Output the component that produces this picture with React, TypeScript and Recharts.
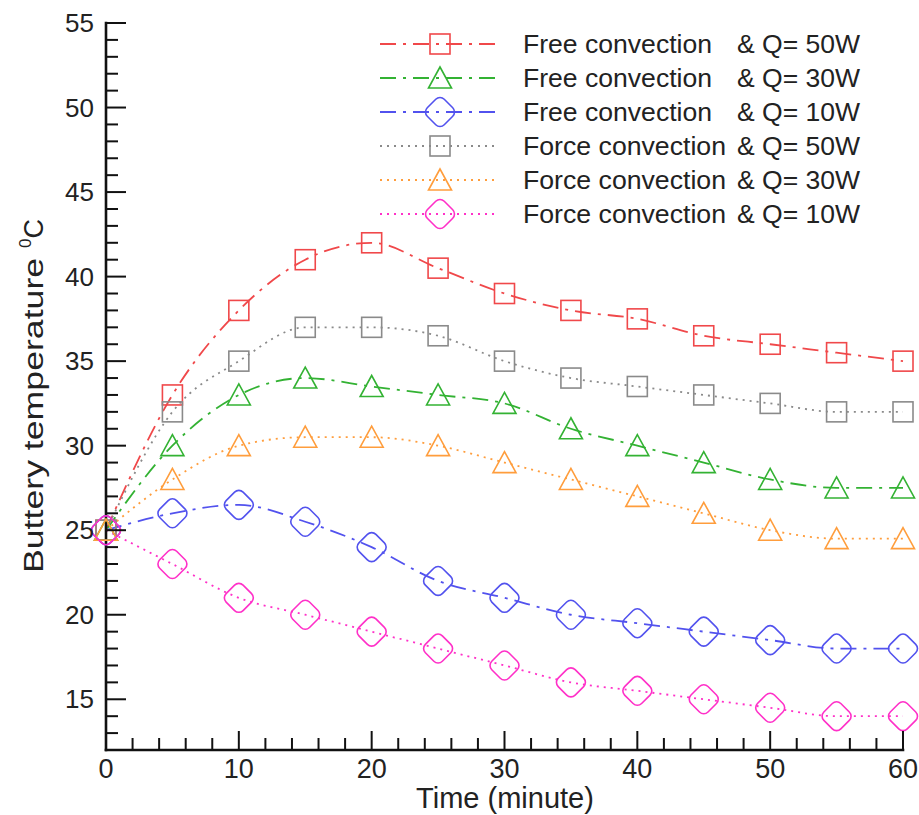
import { LineChart, Line, XAxis, YAxis, Legend } from 'recharts';

// time in minutes
const times = [0, 5, 10, 15, 20, 25, 30, 35, 40, 45, 50, 55, 60];

// battery temperature (°C)
const free50 = [25, 33, 38, 41, 42, 40.5, 39, 38, 37.5, 36.5, 36, 35.5, 35];
const free30 = [25, 30, 33, 34, 33.5, 33, 32.5, 31, 30, 29, 28, 27.5, 27.5];
const free10 = [25, 26, 26.5, 25.5, 24, 22, 21, 20, 19.5, 19, 18.5, 18, 18];
const force50 = [25, 32, 35, 37, 37, 36.5, 35, 34, 33.5, 33, 32.5, 32, 32];
const force30 = [25, 28, 30, 30.5, 30.5, 30, 29, 28, 27, 26, 25, 24.5, 24.5];
const force10 = [25, 23, 21, 20, 19, 18, 17, 16, 15.5, 15, 14.5, 14, 14];

const xMajor = [0, 10, 20, 30, 40, 50, 60];
const yMajor = [15, 20, 25, 30, 35, 40, 45, 50, 55];
const xTicks = Array.from({ length: 31 }, (_, i) => i * 2);
const yTicks = Array.from({ length: 43 }, (_, i) => 13 + i);

const FONT = "'Liberation Sans', Arial, Helvetica, sans-serif";
const AXIS = '#111';

const series = [
  { key: 'free50', name: 'Free convection', q: '& Q= 50W', color: '#f0484a', shape: 'square', dash: '16 7 3 7' },
  { key: 'free30', name: 'Free convection', q: '& Q= 30W', color: '#33b233', shape: 'triangle', dash: '16 7 3 7' },
  { key: 'free10', name: 'Free convection', q: '& Q= 10W', color: '#5252ee', shape: 'diamond', dash: '16 7 3 7' },
  { key: 'force50', name: 'Force convection', q: '& Q= 50W', color: '#8a8a8a', shape: 'square', dash: '2 5' },
  { key: 'force30', name: 'Force convection', q: '& Q= 30W', color: '#ff9d3c', shape: 'triangle', dash: '2 5' },
  { key: 'force10', name: 'Force convection', q: '& Q= 10W', color: '#ff30c8', shape: 'diamond', dash: '2 5' },
];

const values: Record<string, number[]> = { free50, free30, free10, force50, force30, force10 };

const data = times.map((t, i) => {
  const row: Record<string, number> = { t };
  series.forEach((s) => {
    row[s.key] = values[s.key][i];
  });
  return row;
});

function Marker({ cx, cy, shape, color }: { cx: number; cy: number; shape: string; color: string }) {
  if (cx == null || cy == null) return null;
  if (shape === 'square') {
    return <rect x={cx - 10} y={cy - 10} width={20} height={20} fill="none" stroke={color} strokeWidth={1.6} />;
  }
  if (shape === 'triangle') {
    const pts = `${cx},${cy - 11} ${cx - 11.5},${cy + 10} ${cx + 11.5},${cy + 10}`;
    return <polygon points={pts} fill="none" stroke={color} strokeWidth={1.6} />;
  }
  return (
    <rect
      x={cx - 12}
      y={cy - 12}
      width={24}
      height={24}
      rx={6}
      fill="none"
      stroke={color}
      strokeWidth={1.6}
      transform={`rotate(45 ${cx} ${cy})`}
    />
  );
}

function XTick(props: any) {
  const { x, y, payload } = props;
  const major = xMajor.includes(payload.value);
  return (
    <g>
      <line x1={x} x2={x} y1={y} y2={y - (major ? 19 : 12)} stroke={AXIS} strokeWidth={2} />
      {major && (
        <text x={x} y={y + 28} textAnchor="middle" fontSize={27} fontFamily={FONT} fill="#222">
          {payload.value}
        </text>
      )}
    </g>
  );
}

function YTick(props: any) {
  const { x, y, payload } = props;
  const major = yMajor.includes(payload.value);
  return (
    <g>
      <line x1={x} x2={x + (major ? 20 : 12)} y1={y} y2={y} stroke={AXIS} strokeWidth={2} />
      {major && (
        <text x={x - 12} y={y + 9} textAnchor="end" fontSize={26} fontFamily={FONT} fill="#222">
          {payload.value}
        </text>
      )}
    </g>
  );
}

function LegendBox() {
  return (
    <svg width={520} height={215} style={{ display: 'block' }}>
      {series.map((s, i) => {
        const y = 18 + i * 34;
        return (
          <g key={s.key}>
            <line x1={10} x2={127} y1={y} y2={y} stroke={s.color} strokeWidth={1.8} strokeDasharray={s.dash} />
            <Marker cx={70} cy={y} shape={s.shape} color={s.color} />
            <text
              x={153}
              y={y + 9}
              fontSize={25}
              fontFamily={FONT}
              fill="#222"
              textLength={s.name.startsWith('Force') ? 203 : 189}
              lengthAdjust="spacingAndGlyphs"
            >
              {s.name}
            </text>
            <text x={367} y={y + 9} fontSize={25} fontFamily={FONT} fill="#222" textLength={123} lengthAdjust="spacingAndGlyphs">
              {s.q}
            </text>
          </g>
        );
      })}
    </svg>
  );
}

export default function App() {
  return (
    <div style={{ position: 'absolute', left: 0, top: 0, background: '#fff' }}>
      <LineChart width={919} height={815} data={data} margin={{ top: 23, right: 16, bottom: 0, left: 0 }}>
        <XAxis
          dataKey="t"
          type="number"
          domain={[0, 60]}
          ticks={xTicks}
          interval={0}
          tickSize={0}
          tickMargin={0}
          tickLine={false}
          tick={<XTick />}
          height={65}
          axisLine={{ stroke: AXIS, strokeWidth: 2.6, strokeLinecap: 'square' }}
          label={{
            content: () => (
              <text x={505} y={808} textAnchor="middle" fontSize={29} fontFamily={FONT} fill="#222">
                Time (minute)
              </text>
            ),
          }}
        />
        <XAxis
          xAxisId="top"
          orientation="top"
          type="number"
          domain={[0, 60]}
          height={0}
          tick={false}
          tickLine={false}
          axisLine={{ stroke: AXIS, strokeWidth: 2.6, strokeLinecap: 'square' }}
        />
        <YAxis
          type="number"
          domain={[12, 55]}
          ticks={yTicks}
          interval={0}
          tickSize={0}
          tickMargin={0}
          tickLine={false}
          tick={<YTick />}
          width={106}
          axisLine={{ stroke: AXIS, strokeWidth: 2.6, strokeLinecap: 'square' }}
          label={{
            content: () => (
              <text
                transform="rotate(-90 43 396)"
                x={43}
                y={396}
                textAnchor="middle"
                fontSize={27}
                fontFamily={FONT}
                fill="#222"
              >
                <tspan textLength={325} lengthAdjust="spacingAndGlyphs">Buttery temperature </tspan>
                <tspan dy={-12} fontSize={17}>0</tspan>
                <tspan dy={12}>C</tspan>
              </text>
            ),
          }}
        />
        <YAxis
          yAxisId="right"
          orientation="right"
          type="number"
          domain={[12, 55]}
          width={0}
          tick={false}
          tickLine={false}
          axisLine={{ stroke: AXIS, strokeWidth: 2.6, strokeLinecap: 'square' }}
        />
        <Legend
          layout="horizontal"
          verticalAlign="middle"
          align="center"
          content={() => <LegendBox />}
          wrapperStyle={{ top: 26, left: 370, width: 520, height: 215 }}
        />
        {series.map((s) => (
          <Line
            key={s.key}
            type="monotone"
            dataKey={s.key}
            name={`${s.name} ${s.q}`}
            stroke={s.color}
            strokeWidth={1.8}
            strokeDasharray={s.dash}
            dot={(p: any) => <Marker key={`${s.key}-${p.index}`} cx={p.cx} cy={p.cy} shape={s.shape} color={s.color} />}
            activeDot={false}
            isAnimationActive={false}
          />
        ))}
      </LineChart>
    </div>
  );
}
